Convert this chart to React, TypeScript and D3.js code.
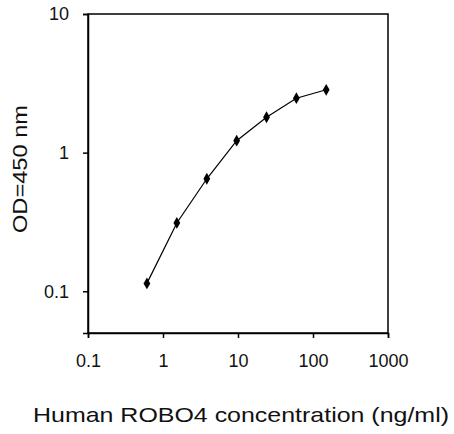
import { useEffect, useRef } from 'react';
import * as d3 from 'd3';

// standard curve
const conc = [0.61, 1.53, 3.84, 9.6, 24, 60, 150];
const od = [0.114, 0.311, 0.648, 1.22, 1.8, 2.47, 2.84];

const xTicks = [0.1, 1, 10, 100, 1000];
const xTickLabels = ['0.1', '1', '10', '100', '1000'];
const yTicks = [0.1, 1, 10];
const yTickLabels = ['0.1', '1', '10'];

const W = 454;
const H = 434;
const margin = { top: 14, right: 66, bottom: 101, left: 88 };
const FONT = '"Liberation Sans", Arial, sans-serif';

export default function App() {
  const svgRef = useRef<SVGSVGElement>(null);

  useEffect(() => {
    if (!svgRef.current) return;
    const svg = d3.select(svgRef.current);
    svg.selectAll('*').remove();

    const x = d3.scaleLog().domain([0.1, 1000]).range([margin.left, W - margin.right]);
    const y = d3.scaleLog().domain([0.05, 10]).range([H - margin.bottom, margin.top]);

    svg.append('rect').attr('width', W).attr('height', H).attr('fill', '#fff');

    // frame
    svg.append('rect')
      .attr('x', margin.left).attr('y', margin.top)
      .attr('width', W - margin.left - margin.right)
      .attr('height', H - margin.top - margin.bottom)
      .attr('fill', 'none').attr('stroke', '#000').attr('stroke-width', 1.5);

    const xAxis = svg.append('g')
      .attr('transform', `translate(0,${H - margin.bottom})`)
      .call(d3.axisBottom(x).tickValues(xTicks)
        .tickFormat((_, i) => xTickLabels[i]).tickSize(5).tickPadding(16));
    xAxis.select('.domain').attr('stroke-width', 1.5);
    xAxis.selectAll('line').attr('stroke-width', 1.5);
    xAxis.selectAll('text').attr('font-family', FONT).attr('font-size', 18).attr('fill', '#111');

    const yAxis = svg.append('g')
      .attr('transform', `translate(${margin.left},0)`)
      .call(d3.axisLeft(y).tickValues(yTicks)
        .tickFormat((_, i) => yTickLabels[i]).tickSize(5).tickPadding(14));
    yAxis.select('.domain').attr('stroke-width', 1.5);
    yAxis.selectAll('line').attr('stroke-width', 1.5);
    yAxis.selectAll('text').attr('font-family', FONT).attr('font-size', 18).attr('fill', '#111');

    const pts = conc.map((c, i) => [c, od[i]] as [number, number]);

    svg.append('path')
      .datum(pts)
      .attr('fill', 'none')
      .attr('stroke', '#000')
      .attr('stroke-width', 1.2)
      .attr('d', d3.line<[number, number]>().x(d => x(d[0])).y(d => y(d[1])));

    svg.append('g').selectAll('path')
      .data(pts)
      .join('path')
      .attr('transform', d => `translate(${x(d[0])},${y(d[1])})`)
      .attr('d', d3.symbol().type(d3.symbolDiamond).size(40)())
      .attr('fill', '#000');

    // axis titles
    svg.append('text')
      .attr('x', 241).attr('y', 422)
      .attr('text-anchor', 'middle')
      .attr('font-family', FONT).attr('font-size', 21).attr('fill', '#111')
      .attr('textLength', 416).attr('lengthAdjust', 'spacingAndGlyphs')
      .text('Human ROBO4 concentration (ng/ml)');

    svg.append('text')
      .attr('transform', 'translate(27,169) rotate(-90)')
      .attr('text-anchor', 'middle')
      .attr('font-family', FONT).attr('font-size', 21).attr('fill', '#111')
      .attr('textLength', 128).attr('lengthAdjust', 'spacingAndGlyphs')
      .text('OD=450 nm');
  }, []);

  return (
    <svg
      ref={svgRef}
      width={W}
      height={H}
      style={{ position: 'absolute', left: 0, top: 0, display: 'block' }}
    />
  );
}
